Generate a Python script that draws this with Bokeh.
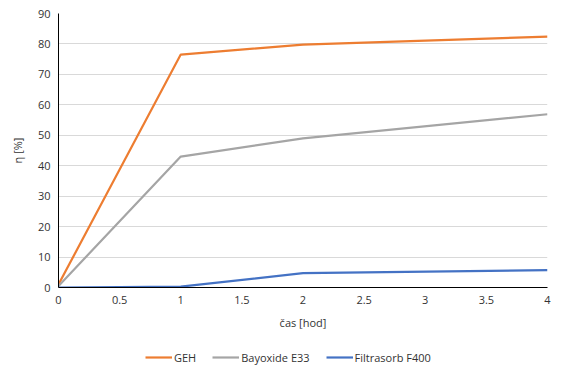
from bokeh.plotting import figure
from bokeh.models import FixedTicker, Legend, LegendItem, Range1d
from bokeh.layouts import column
from bokeh.embed import file_html
from bokeh.resources import INLINE

time_h = [0, 1, 2, 4]
geh = [1.0, 76.5, 79.8, 82.4]
bayoxide = [0.5, 43.0, 49.0, 56.9]
filtrasorb = [0.0, 0.3, 4.7, 5.7]
series_names = ["GEH", "Bayoxide E33", "Filtrasorb F400"]
colors = ["#ED7D31", "#A5A5A5", "#4472C4"]
x_ticks = [0, 0.5, 1, 1.5, 2, 2.5, 3, 3.5, 4]
x_tick_labels = ["0", "0.5", "1", "1.5", "2", "2.5", "3", "3.5", "4"]
y_ticks = [0, 10, 20, 30, 40, 50, 60, 70, 80, 90]

FONT = "Open Sans"
FS = "11px"
TXT = "#333333"
series = [geh, bayoxide, filtrasorb]

p = figure(width=564, height=336, output_backend="svg", toolbar_location=None,
           x_range=Range1d(0, 4), y_range=Range1d(0, 90),
           min_border_left=58, min_border_right=17, min_border_top=13, min_border_bottom=49)
p.outline_line_color = None
p.xgrid.grid_line_color = None
p.ygrid.grid_line_color = "#D9D9D9"
p.ygrid.grid_line_width = 1

for ys, c in zip(series, colors):
    p.line(time_h, ys, line_color=c, line_width=2.2)

p.xaxis.ticker = FixedTicker(ticks=x_ticks)
p.xaxis.major_label_overrides = {t: l for t, l in zip(x_ticks, x_tick_labels)}
p.yaxis.ticker = FixedTicker(ticks=y_ticks)
for ax in (p.xaxis[0], p.yaxis[0]):
    ax.major_tick_out = 0
    ax.major_tick_in = 0
    ax.minor_tick_out = 0
    ax.minor_tick_in = 0
    ax.axis_line_color = "black"
    ax.axis_line_width = 1
    ax.major_label_text_font = FONT
    ax.major_label_text_font_size = FS
    ax.major_label_text_color = TXT
    ax.axis_label_text_font = FONT
    ax.axis_label_text_font_size = FS
    ax.axis_label_text_font_style = "normal"
    ax.axis_label_text_color = TXT
p.xaxis.axis_label = "čas [hod]"
p.yaxis.axis_label = "η [%]"
p.xaxis.major_label_standoff = 8
p.xaxis.axis_label_standoff = 8
p.yaxis.major_label_standoff = 8
p.yaxis.axis_label_standoff = 10

# legend strip: same series drawn out of view, only their legend entries show
lg = figure(width=564, height=40, output_backend="svg", toolbar_location=None,
            x_range=Range1d(100, 101), y_range=Range1d(0, 1),
            min_border=0, x_axis_type=None, y_axis_type=None)
lg.outline_line_color = None
lg.xgrid.grid_line_color = None
lg.ygrid.grid_line_color = None
lrs = [lg.line(time_h, ys, line_color=c, line_width=2.2) for ys, c in zip(series, colors)]
legend = Legend(items=[LegendItem(label=n, renderers=[r]) for n, r in zip(series_names, lrs)],
                orientation="horizontal", location=(87, 11),
                label_text_font=FONT, label_text_font_size=FS, label_text_color=TXT,
                glyph_width=27, glyph_height=16, label_standoff=2, spacing=16,
                border_line_color=None, background_fill_alpha=0, padding=2, margin=0,
                label_height=16)
lg.add_layout(legend, "center")

open("out.html", "w").write(file_html(column(p, lg, spacing=0), INLINE))
